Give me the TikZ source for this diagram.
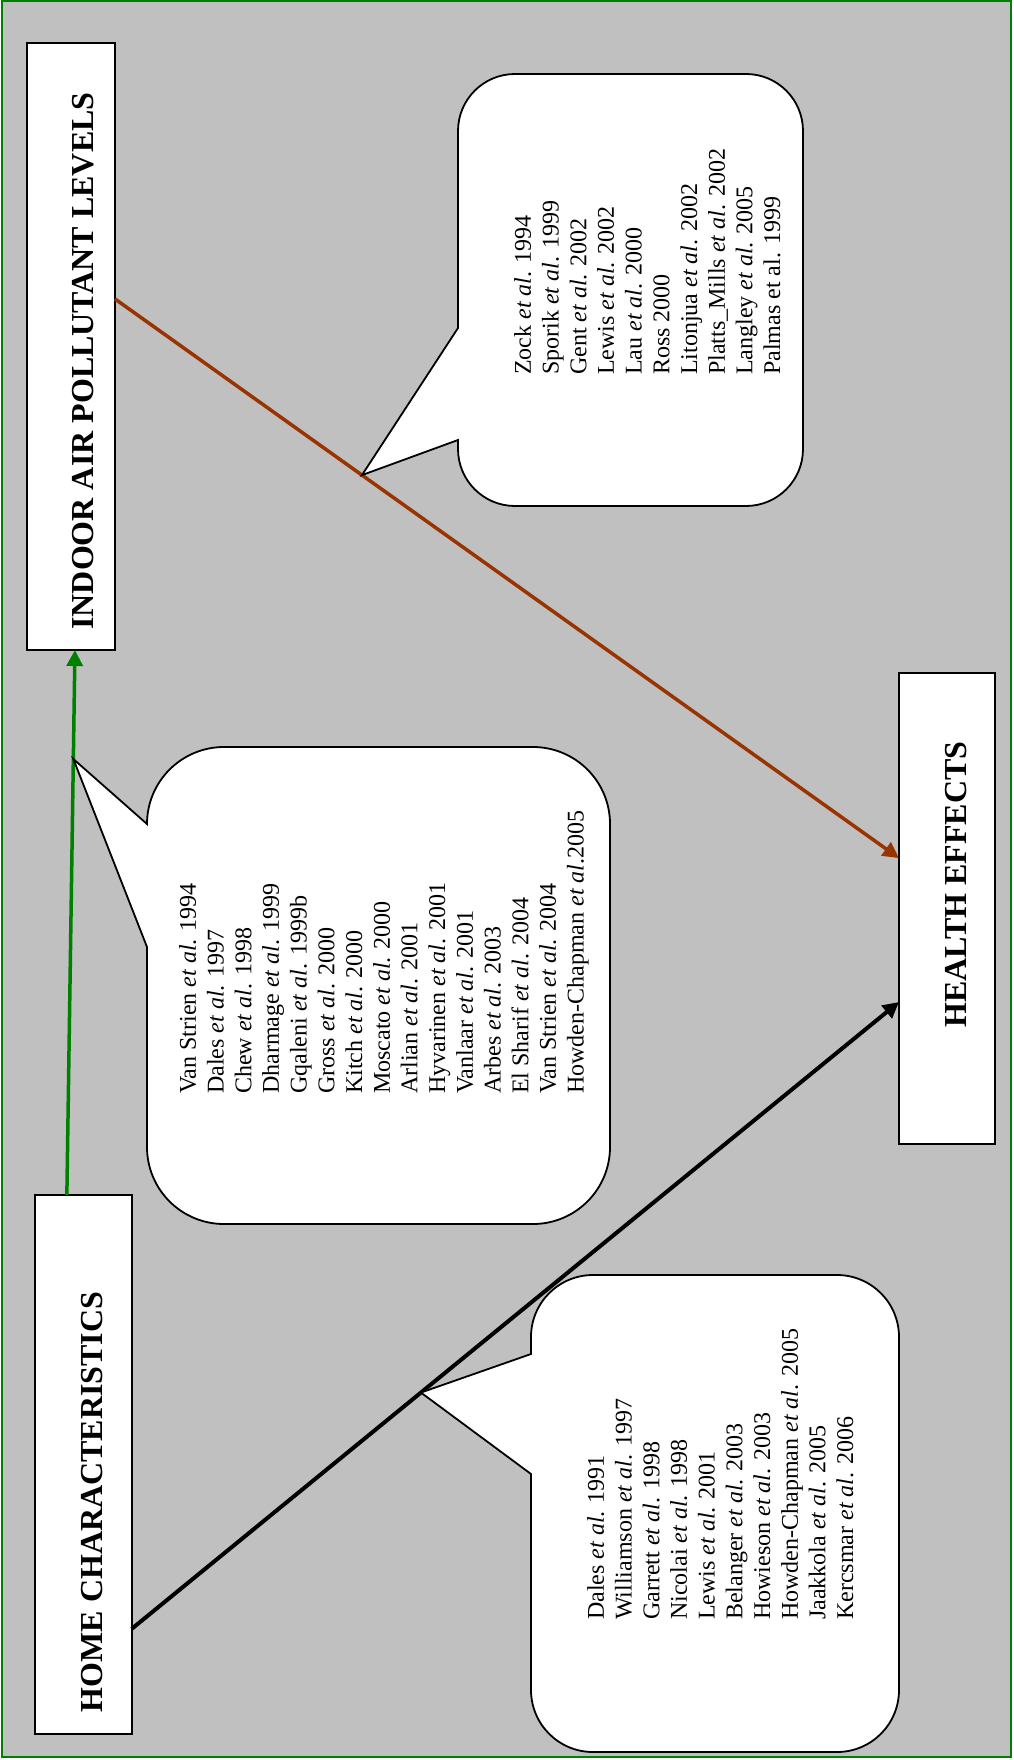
\documentclass[tikz,border=0pt]{standalone}
\usepackage{fontspec}
\setmainfont{Liberation Serif}
\usetikzlibrary{arrows.meta,calc}
\definecolor{bggray}{HTML}{C0C0C0}
\definecolor{framegreen}{HTML}{008000}
\definecolor{linkbrown}{HTML}{993300}
\tikzset{
  titlebox/.style={draw=black, line width=2pt, fill=white, inner sep=0pt, outer sep=0pt},
  titletext/.style={rotate=90, inner sep=0pt, font=\fontsize{32}{38}\selectfont\bfseries},
  reftext/.style={rotate=90, anchor=north west, inner sep=0pt, align=left, font=\fontsize{24}{27.7}\selectfont},
  callout/.style={draw=black, line width=1.8pt, fill=white},
  link/.style={line width=3.5pt, -{Triangle[length=16pt,width=16pt]}},
}
\begin{document}
\begin{tikzpicture}[x=1pt,y=1pt,yscale=-1]
\fill[white] (0,0) rectangle (1013,1760);
\useasboundingbox (0,0) rectangle (1013,1760);
\draw[framegreen, line width=2pt, fill=bggray] (1.5,1.5) rectangle (1011,1757);

% boxes
\node[titlebox, minimum width=88pt, minimum height=607pt] (indoor) at (71,346.5) {};
\node[titlebox, minimum width=96.7pt, minimum height=539pt] (home) at (83.3,1464.5) {};
\node[titlebox, minimum width=96pt, minimum height=471pt] (health) at (947,908.5) {};

\node[titletext] (indoorlabel) at (83,361) {INDOOR AIR POLLUTANT LEVELS};
\node[titletext] (homelabel) at (91.7,1502) {HOME CHARACTERISTICS};
\node[titletext] (healthlabel) at (956,884.5) {HEALTH EFFECTS};

% connectors
\draw[link, framegreen] ($(home.north west)!0.33!(home.north east)$) -- ($(indoor.south west)!0.545!(indoor.south east)$) coordinate[pos=0.8] (tipB);
\draw[link, linkbrown] ($(indoor.north east)!0.4217!(indoor.south east)$) -- ($(health.north west)!0.393!(health.south west)$) coordinate[pos=0.315] (tipA);
\draw[link, black, line width=4pt] ($(home.north east)!0.805!(home.south east)$) -- ($(health.north west)!0.6985!(health.south west)$) coordinate[pos=0.377] (tipC);

% callouts
\draw[callout] (458,131) arc[start angle=180,end angle=270,radius=57] -- (746,74)
  arc[start angle=270,end angle=360,radius=57] -- (803,449)
  arc[start angle=0,end angle=90,radius=57] -- (515,506)
  arc[start angle=90,end angle=180,radius=57] -- (458,440) -- (tipA) -- (458,328) -- cycle;

\draw[callout] (147,824) arc[start angle=180,end angle=270,radius=77] -- (533,747)
  arc[start angle=270,end angle=360,radius=77] -- (610,1147)
  arc[start angle=0,end angle=90,radius=77] -- (224,1224)
  arc[start angle=90,end angle=180,radius=77] -- (147,947) -- (tipB) -- cycle;

\draw[callout] (531,1337) arc[start angle=180,end angle=270,radius=62] -- (837,1275)
  arc[start angle=270,end angle=360,radius=62] -- (899,1690)
  arc[start angle=0,end angle=90,radius=62] -- (593,1752)
  arc[start angle=90,end angle=180,radius=62] -- (531,1474) -- (tipC) -- (531,1354) -- cycle;

% reference lists
\node[reftext] (refsA) at (514,375) {Zock \textit{et al}. 1994\\
Sporik \textit{et al}. 1999\\
Gent \textit{et al}. 2002\\
Lewis \textit{et al}. 2002\\
Lau \textit{et al}. 2000\\
Ross 2000\\
Litonjua \textit{et al}. 2002\\
Platts\_Mills \textit{et al}. 2002\\
Langley \textit{et al}. 2005\\
Palmas et al. 1999};

\node[reftext] (refsB) at (179,1094) {Van Strien \textit{et al}. 1994\\
Dales \textit{et al}. 1997\\
Chew \textit{et al}. 1998\\
Dharmage \textit{et al}. 1999\\
Gqaleni \textit{et al}. 1999b\\
Gross \textit{et al}. 2000\\
Kitch \textit{et al}. 2000\\
Moscato \textit{et al}. 2000\\
Arlian \textit{et al}. 2001\\
Hyvarinen \textit{et al}. 2001\\
Vanlaar \textit{et al}. 2001\\
Arbes \textit{et al}. 2003\\
El Sharif \textit{et al}. 2004\\
Van Strien \textit{et al}. 2004\\
Howden-Chapman \textit{et al}.2005};

\node[reftext] (refsC) at (587,1620) {Dales \textit{et al}. 1991\\
Williamson \textit{et al}. 1997\\
Garrett \textit{et al}. 1998\\
Nicolai \textit{et al}. 1998\\
Lewis \textit{et al}. 2001\\
Belanger \textit{et al}. 2003\\
Howieson \textit{et al}. 2003\\
Howden-Chapman \textit{et al}. 2005\\
Jaakkola \textit{et al}. 2005\\
Kercsmar \textit{et al}. 2006};
\end{tikzpicture}
\end{document}
